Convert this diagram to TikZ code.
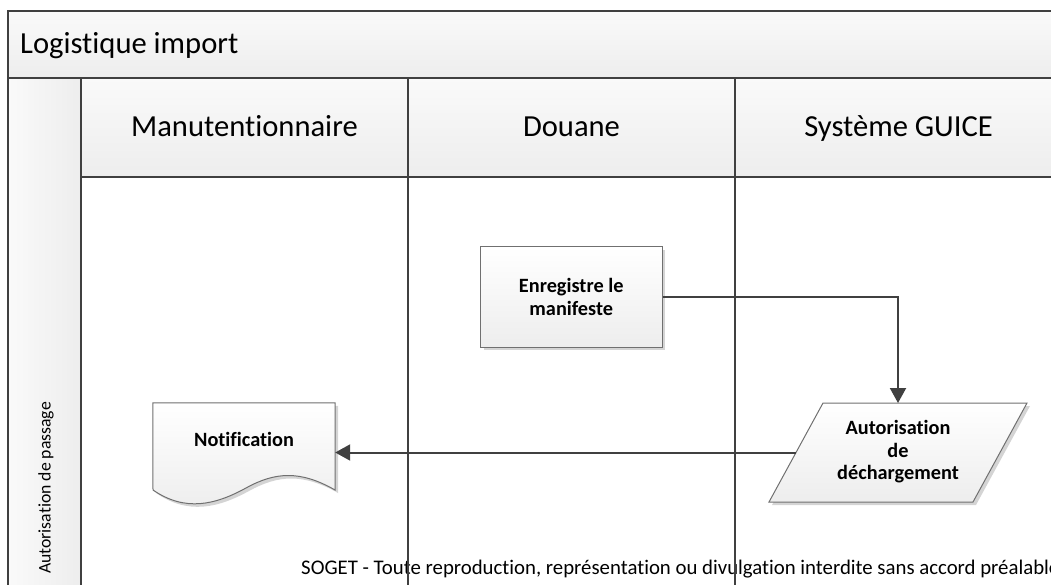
\documentclass[tikz,border=0pt]{standalone}
\usepackage{fontspec}
\setmainfont{Carlito}[Ligatures={NoCommon}]
\usetikzlibrary{arrows.meta,shadows}
\definecolor{frameline}{HTML}{404040}
\definecolor{shapeline}{HTML}{707070}
\definecolor{shadowgray}{HTML}{D4D4D4}
\definecolor{paneltop}{HTML}{FAFAFA}
\definecolor{panelbottom}{HTML}{EDEDED}
\begin{document}
\begin{tikzpicture}[x=1pt,y=-1pt,
  laneline/.style={draw=frameline, line width=1.8pt},
  headtext/.style={inner sep=0pt, font=\fontsize{30.6}{36}\selectfont},
  boldtext/.style={inner sep=0pt, align=center, font=\fontsize{20.3}{22.5}\selectfont\bfseries},
  shapefill/.style={draw=shapeline, line width=1pt, top color=white, bottom color=panelbottom},
  castshadow/.style={drop shadow={shadow xshift=3pt, shadow yshift=-3pt, fill=shadowgray, opacity=1}},
  flow/.style={draw=frameline, line width=2pt, -{Triangle[length=15pt, width=16pt]}},
]
\useasboundingbox (0,0) rectangle (1051,585);
\clip (0,0) rectangle (1051,585);

% pool title bar
\path[top color=paneltop, bottom color=panelbottom] (8,11) rectangle (1100,78);
% vertical lane label column
\path[left color=paneltop, right color=panelbottom] (8,78) rectangle (81,600);
% lane headers
\foreach \x in {81,408,735}
  \path[top color=paneltop, bottom color=panelbottom] (\x,78) rectangle (\x+327,177);

% footer (lane lines run over it)
\node[inner sep=0pt, anchor=base west, font=\fontsize{20.8}{24}\selectfont] (footer) at (301,574)
  {SOGET - Toute reproduction, représentation ou divulgation interdite sans accord préalable};

% frame and lane lines
\draw[laneline] (1100,11) -- (8,11) -- (8,600);
\draw[laneline] (8,78) -- (1100,78);
\draw[laneline] (81,177) -- (1100,177);
\foreach \x in {81,408,735,1062}
  \draw[laneline] (\x,78) -- (\x,600);

% titles
\node[headtext, anchor=base west] (pooltitle) at (20,54) {Logistique import};
\node[headtext, anchor=base] (h1) at (244.5,137) {Manutentionnaire};
\node[headtext, anchor=base] (h2) at (571.5,137) {Douane};
\node[headtext, anchor=base] (h3) at (898.5,137) {Système GUICE};
\node[inner sep=0pt, rotate=90, font=\fontsize{17.7}{20}\selectfont] (rowlabel) at (46,488) {Autorisation de passage};

% process step
\node[shapefill, castshadow, boldtext, minimum width=181.5pt, minimum height=100pt] (enreg) at (571.25,297) {Enregistre le\\manifeste};

% data (parallelogram)
\path[shapefill, castshadow] (823,403) -- (1027,403) -- (973,502) -- (769,502) -- cycle;
\node[boldtext] (autor) at (898,452) {Autorisation\\de\\déchargement};
\coordinate (autorTop) at (898,403);
\coordinate (autorLeft) at (796,452.5);

% document
\node[boldtext, minimum width=182pt, minimum height=72pt] (notif) at (244,439) {};
\path[shapefill, castshadow] (notif.north west) -- (notif.north east) -- (335,490)
  .. controls (300,470) and (275,472) .. (246,488)
  .. controls (215,505) and (185,512) .. (153,490) -- cycle;
\node[boldtext] (notiftext) at (notif.center) {Notification};

% connectors
\draw[flow] (enreg.east) -| (autorTop);
\draw[flow] (autorLeft) -- (autorLeft -| notif.east);
\end{tikzpicture}
\end{document}
